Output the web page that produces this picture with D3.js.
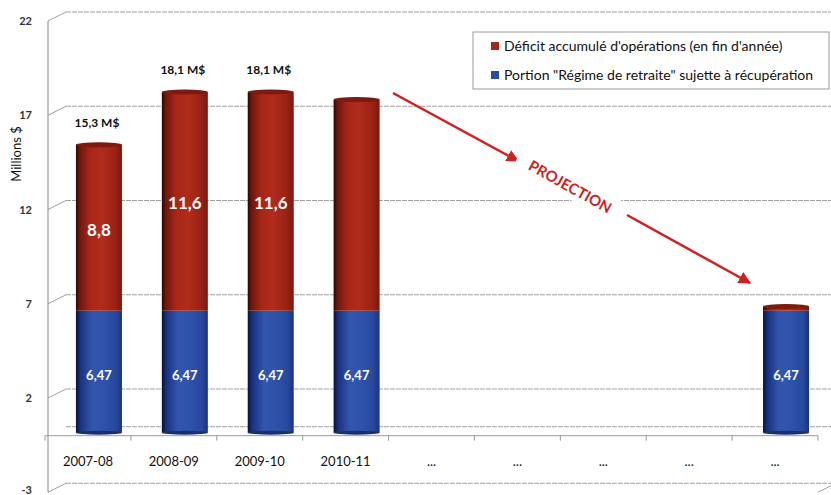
<!DOCTYPE html>
<html><head><meta charset="utf-8">
<script src="https://cdn.jsdelivr.net/npm/d3@7"></script>
<style>body{margin:0;background:#fff}svg{display:block;font-family:Lato,"Open Sans",sans-serif}</style>
</head><body><svg id="c" width="831" height="495"></svg>
<script>
const categories = ["2007-08","2008-09","2009-10","2010-11","...","...","...","...","..."];
const retraite = [6.47,6.47,6.47,6.47,null,null,null,null,6.47];
const deficit = [8.8,11.6,11.6,11.2,null,null,null,null,0.22];
const totalLabels = ["15,3 M$","18,1 M$","18,1 M$","","","","","",""];
const deficitLabels = ["8,8","11,6","11,6","","","","","",""];
const retraiteLabels = ["6,47","6,47","6,47","6,47","","","","","6,47"];
const yTicks = [-3,2,7,12,17,22];
const seriesNames = ["Déficit accumulé d'opérations (en fin d'année)","Portion \"Régime de retraite\" sujette à récupération"];

const svg = d3.select("#c");
const y = d3.scaleLinear().domain([2,22]).range([398,21]);
const x = d3.scaleBand().domain(d3.range(categories.length)).range([45,818]);
const backDx = 18, backDy = -9, barDx = 11, barDy = -3, barW = 46;

const defs = svg.append("defs");
function grad(id, stops){
  const g = defs.append("linearGradient").attr("id",id).attr("x1","0").attr("x2","1").attr("y1","0").attr("y2","0");
  stops.forEach(s=>g.append("stop").attr("offset",s[0]).attr("stop-color",s[1]));
}
grad("gRed",[[0,"#2a0603"],[0.08,"#6e160c"],[0.3,"#a82618"],[0.55,"#b02c1c"],[0.85,"#9a2214"],[1,"#741a0e"]]);
grad("gBlue",[[0,"#08113a"],[0.1,"#1a3280"],[0.35,"#3256ae"],[0.6,"#3052aa"],[0.88,"#26479c"],[1,"#1a337a"]]);

// back wall gridlines + depth diagonals
const gl = svg.append("g").attr("stroke","#a0a0a0").attr("fill","none");
yTicks.forEach(t=>{
  gl.append("line").attr("x1",48).attr("y1",y(t)).attr("x2",48+backDx).attr("y2",y(t)+backDy);
  gl.append("line").attr("x1",48+backDx).attr("y1",y(t)+backDy).attr("x2",831).attr("y2",y(t)+backDy).attr("stroke-dasharray","5,1");
});
// floor back edge
gl.append("line").attr("x1",48+backDx).attr("y1",y(0)+backDy).attr("x2",831).attr("y2",y(0)+backDy).attr("stroke-dasharray","5,1");
// value axis line
gl.append("line").attr("x1",48).attr("y1",y(22)).attr("x2",48).attr("y2",y(-3)).attr("stroke","#888");
// right front edge diagonal
gl.append("line").attr("x1",818).attr("y1",y(-3)).attr("x2",818+backDx).attr("y2",y(-3)+backDy);

// y tick labels
svg.append("g").selectAll("text").data(yTicks).join("text")
  .attr("x",32).attr("y",d=>Math.min(y(d)+4,494)).attr("text-anchor","end")
  .attr("font-size",11).attr("font-weight","bold").attr("fill","#333").text(d=>d);
svg.append("text").attr("transform","translate(21,154) rotate(-90)").attr("text-anchor","middle")
  .attr("font-size",13).attr("fill","#111").text("Millions $");

// category axis
const ca = svg.append("g").attr("stroke","#999");
ca.append("line").attr("x1",45).attr("x2",818).attr("y1",y(0)).attr("y2",y(0));
x.domain().concat([categories.length]).forEach(i=>{
  const xx = i<categories.length ? x(i) : x.range()[1];
  ca.append("line").attr("x1",xx).attr("x2",xx).attr("y1",y(0)).attr("y2",y(0)+5);
});
svg.append("g").selectAll("text").data(categories).join("text")
  .attr("x",(d,i)=>x(i)+x.bandwidth()/2).attr("y",466).attr("text-anchor","middle")
  .attr("font-size",13).attr("fill","#111").text(d=>d);

// bars
const bars = svg.append("g");
categories.forEach((c,i)=>{
  if(retraite[i]==null) return;
  const cx = x(i)+x.bandwidth()/2+barDx, x0 = cx-barW/2;
  const yb = v=>y(v)+barDy;
  const b0 = yb(0), b1 = yb(retraite[i]), b2 = yb(retraite[i]+deficit[i]);
  bars.append("rect").attr("x",x0).attr("y",b1).attr("width",barW).attr("height",b0-b1).attr("fill","url(#gBlue)");
  bars.append("ellipse").attr("cx",cx).attr("cy",b0).attr("rx",barW/2).attr("ry",2).attr("fill","#1a2f70");
  bars.append("rect").attr("x",x0).attr("y",b2).attr("width",barW).attr("height",b1-b2).attr("fill","url(#gRed)");
  bars.append("ellipse").attr("cx",cx).attr("cy",b2).attr("rx",barW/2).attr("ry",2.5).attr("fill","#7e1a0e");
  if(totalLabels[i]) bars.append("text").attr("x",cx-2).attr("y",b2-18).attr("text-anchor","middle")
    .attr("font-size",12).attr("font-weight","bold").attr("fill","#111").text(totalLabels[i]);
  if(deficitLabels[i]) bars.append("text").attr("x",cx).attr("y",(b1+b2)/2+8).attr("text-anchor","middle")
    .attr("font-size",17).attr("font-weight","bold").attr("fill","#fff").text(deficitLabels[i]);
  if(retraiteLabels[i]) bars.append("text").attr("x",cx).attr("y",(b0+b1)/2+8).attr("text-anchor","middle")
    .attr("font-size",13).attr("font-weight","bold").attr("fill","#fff").text(retraiteLabels[i]);
});

// legend
const lg = svg.append("g");
lg.append("rect").attr("x",473).attr("y",32).attr("width",356).attr("height",57).attr("fill","#fff").attr("stroke","#999");
[["#a82618",46],["#2a4a9e",75]].forEach((s,k)=>{
  lg.append("rect").attr("x",491).attr("y",s[1]-4).attr("width",8).attr("height",8).attr("fill",s[0]);
  lg.append("text").attr("x",504).attr("y",s[1]+5).attr("font-size",14).attr("fill","#111").text(seriesNames[k]);
});

// projection arrows
defs.append("marker").attr("id","ah").attr("viewBox","0 0 10 10").attr("refX",9).attr("refY",5)
  .attr("markerWidth",5).attr("markerHeight",5).attr("orient","auto")
  .append("path").attr("d","M0,0L10,5L0,10z").attr("fill","#d21f1f");
const pr = svg.append("g");
pr.append("line").attr("x1",393).attr("y1",93).attr("x2",518).attr("y2",161).attr("stroke","#d21f1f").attr("stroke-width",2.5).attr("marker-end","url(#ah)");
pr.append("line").attr("x1",627).attr("y1",215).attr("x2",750).attr("y2",283).attr("stroke","#d21f1f").attr("stroke-width",2.5).attr("marker-end","url(#ah)");
const tg = pr.append("g").attr("transform","translate(570,187) rotate(29)");
tg.append("rect").attr("x",-60).attr("y",-13).attr("width",120).attr("height",24).attr("fill","#fff");
tg.append("text").attr("text-anchor","middle").attr("y",5).attr("font-size",15).attr("font-weight","bold").attr("fill","#cc1f1f").text("PROJECTION");
</script></body></html>
